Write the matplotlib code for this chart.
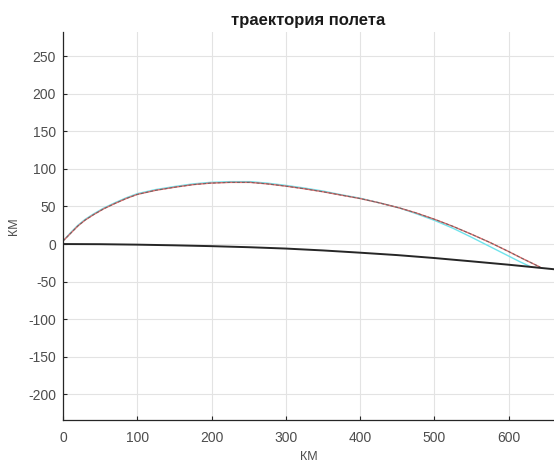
import numpy as np
import matplotlib.pyplot as plt

plt.rcParams['font.family'] = ['Liberation Sans', 'DejaVu Sans']
plt.rcParams['axes.unicode_minus'] = False

# trajectory (red), km
x_red = [0, 10, 20, 30, 41, 55, 70, 85, 100, 125, 150, 175, 198, 225, 252,
         275, 300, 325, 350, 375, 400, 425, 453, 475, 500, 525, 550, 575,
         600, 620, 642]
y_red = [4, 14, 24, 32, 39, 47, 54, 60.5, 66, 71.5, 75.5, 79, 81, 82, 82,
         80, 77, 73.5, 69.5, 65, 60.5, 55, 48, 41.5, 33, 23.5, 13, 2,
         -10, -20, -30.5]

# second trajectory (cyan)
x_cyan = [0, 10, 20, 30, 41, 55, 70, 85, 100, 125, 150, 175, 198, 225, 252,
          275, 300, 325, 350, 375, 400, 425, 453, 475, 500, 525, 550, 575,
          600, 615, 628]
y_cyan = [4, 15, 25, 33, 40, 48, 55, 61.5, 67, 72.5, 76.5, 80, 82, 83, 83,
          81, 78, 74.5, 70.5, 65.5, 61, 55, 48, 40.5, 31.5, 21, 9, -3.5,
          -16, -23.5, -29.5]

# earth surface (black)
x_earth = [0, 50, 100, 150, 200, 250, 300, 350, 400, 450, 500, 550, 600, 661]
y_earth = [0, -0.2, -0.8, -1.7, -2.8, -4.2, -6, -8.5, -11.5, -14.7, -18.6,
           -23, -27.5, -33.5]

fig = plt.figure(figsize=(5.54, 4.66), dpi=100)
ax = fig.add_axes([63 / 554, 1 - 420 / 466, 1 - 63 / 554, (420 - 32) / 466])

ax.plot(x_cyan, y_cyan, color='#6fe3ec', lw=1.0)
ax.plot(x_red, y_red, color='#e06a6a', lw=1.0)
ax.plot(x_red, y_red, color='#666666', lw=0.7, ls=(0, (3, 2)))
ax.plot(x_earth, y_earth, color='#262626', lw=1.4)

ax.set_xlim(0, 661)
ax.set_ylim(-234, 282)
ax.set_xticks(np.arange(0, 601, 100))
ax.set_yticks(np.arange(-200, 251, 50))

ax.grid(True, color='#e3e3e3', lw=0.8)
ax.set_axisbelow(True)
for s in ['top', 'right']:
    ax.spines[s].set_visible(False)
for s in ['left', 'bottom']:
    ax.spines[s].set_color('#262626')
    ax.spines[s].set_linewidth(0.9)

ax.tick_params(direction='in', length=3, width=0.8, color='#262626',
               labelsize=10, labelcolor='#4d4d4d')
ax.tick_params(axis='x', pad=8)
ax.tick_params(axis='y', pad=5)

ax.set_title('траектория полета', fontsize=12, fontweight='bold',
             color='#1a1a1a', pad=5)
ax.set_xlabel('КМ', fontsize=9, color='#4d4d4d', labelpad=4)
ax.set_ylabel('КМ', fontsize=9, color='#4d4d4d', labelpad=6)

fig.savefig('out.png', dpi=100)
